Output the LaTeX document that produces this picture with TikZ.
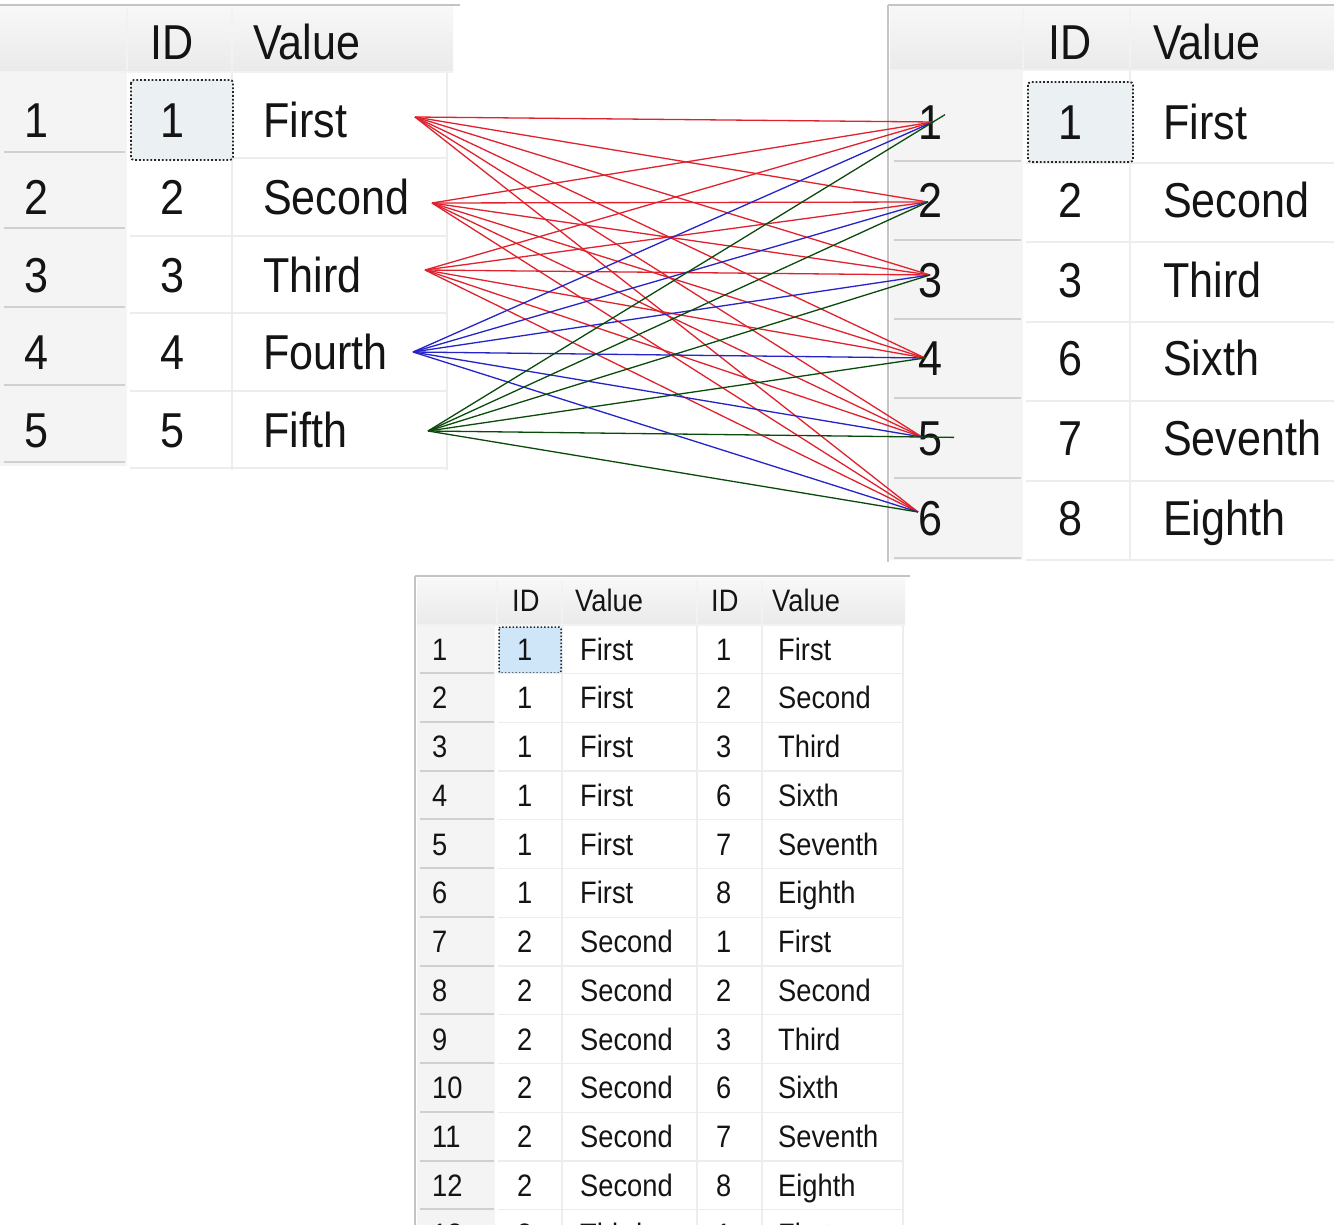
\documentclass[tikz,border=0pt]{standalone}
\usepackage{fontspec}
\setmainfont[FakeStretch=0.88]{Liberation Sans}
\definecolor{txt}{HTML}{141414}
\definecolor{hdrtop}{HTML}{F8F8F8}
\definecolor{hdrbot}{HTML}{EAEAEA}
\definecolor{rh}{HTML}{F4F4F4}
\definecolor{rhline}{HTML}{D0D0D0}
\definecolor{gridc}{HTML}{EDEDED}
\definecolor{bordc}{HTML}{C4C4C4}
\definecolor{lred}{HTML}{E0222E}
\definecolor{lblue}{HTML}{2424C8}
\definecolor{lgreen}{HTML}{0A4A0A}
\definecolor{focusa}{HTML}{EBF0F3}
\definecolor{focusb}{HTML}{CFE5F8}
\tikzset{
  big/.style={font=\fontsize{49}{49}\selectfont, anchor=base west, inner sep=0pt, text=txt},
  small/.style={font=\fontsize{31}{31}\selectfont, anchor=base west, inner sep=0pt, text=txt},
  hdrbg/.style={top color=hdrtop, bottom color=hdrbot, draw=none},
  rhbg/.style={fill=rh, draw=none},
  rhsep/.style={draw=rhline, line width=2pt},
  hsep/.style={draw=gridc!80!black!20!white, line width=1.2pt},
  gridl/.style={draw=gridc, line width=1.2pt},
  outer/.style={draw=bordc, line width=2.5pt},
  focusbox/.style={draw=black!85, dotted, line width=1.8pt, rounded corners=3pt},
  redline/.style={draw=lred, line width=1.3pt},
  blueline/.style={draw=lblue, line width=1.3pt},
  greenline/.style={draw=lgreen, line width=1.3pt}
}
\begin{document}
\begin{tikzpicture}[x=1pt,y=-1pt]
\useasboundingbox (0,0) rectangle (1334,1225);
\fill[white] (0,0) rectangle (1334,1225);

% ---------------- left table ----------------
\fill[hdrbg] (0,5) rectangle (453,72);
\draw[outer] (0,5) -- (460,5);
\draw[hsep] (127,9) -- (127,70);
\draw[hsep] (232,9) -- (232,70);
\draw[hsep] (0,72) -- (453,72);
\fill[rhbg] (0,73) rectangle (127,466);
\foreach \y in {152,228,307,385,462} \draw[rhsep] (4,\y) -- (125,\y);
\foreach \y in {158,236,313,391,468} \draw[gridl] (130,\y) -- (447,\y);
\draw[gridl] (232,73) -- (232,470);
\draw[gridl] (447,73) -- (447,470);
\filldraw[focusbox, fill=focusa] (131,80) rectangle (233,160);
\node[big] (lhid) at (150,59.5) {ID};
\node[big] (lhval) at (253,59.5) {Value};
\foreach \i/\v/\y in {1/First/120,2/Second/197,3/Third/275,4/Fourth/352,5/Fifth/430}{
  \node[big] (lrn\i) at (24,\y+17.5) {\i};
  \node[big] (lid\i) at (160,\y+17.5) {\i};
  \node[big] (lval\i) at (263,\y+17.5) {\v};
}

% ---------------- right table ----------------
\fill[hdrbg] (890,5) rectangle (1334,70);
\draw[outer] (888,5) -- (1334,5);
\draw[outer] (888,5) -- (888,562);
\draw[hsep] (1023,9) -- (1023,68);
\draw[hsep] (1130,9) -- (1130,68);
\draw[hsep] (890,70) -- (1334,70);
\fill[rhbg] (890,71) rectangle (1023,560);
\foreach \y in {161,240,319,398,478,558} \draw[rhsep] (894,\y) -- (1021,\y);
\foreach \y in {163,242,322,401,481,560} \draw[gridl] (1026,\y) -- (1334,\y);
\draw[gridl] (1130,71) -- (1130,560);
\filldraw[focusbox, fill=focusa] (1028,82) rectangle (1133,162);
\node[big] (rhid) at (1048,59.5) {ID};
\node[big] (rhval) at (1153,59.5) {Value};
\foreach \i/\d/\v/\y in {1/1/First/122,2/2/Second/200,3/3/Third/280,4/6/Sixth/358,5/7/Seventh/438,6/8/Eighth/518}{
  \node[big] (rrn\i) at (918,\y+17.5) {\i};
  \node[big] (rid\i) at (1058,\y+17.5) {\d};
  \node[big] (rval\i) at (1163,\y+17.5) {\v};
}

% ---------------- bottom table ----------------
\fill[hdrbg] (417,578) rectangle (905,625);
\draw[outer] (415,576) -- (910,576);
\draw[outer] (415,576) -- (415,1225);
\foreach \x in {497,562,697,762} \draw[hsep] (\x,581) -- (\x,623);
\draw[hsep] (417,625) -- (905,625);
\fill[rhbg] (417,626) rectangle (495,1225);
\foreach \x in {562,697,762,903} \draw[gridl] (\x,626) -- (\x,1225);
\filldraw[focusbox, fill=focusb, line width=1.5pt, rounded corners=2pt] (499,627) rectangle (561,673);
\node[small] (bh1) at (512,611) {ID};
\node[small] (bh2) at (575,611) {Value};
\node[small] (bh3) at (711,611) {ID};
\node[small] (bh4) at (772,611) {Value};
\foreach \i/\a/\b/\c/\d in {1/1/First/1/First,2/1/First/2/Second,3/1/First/3/Third,4/1/First/6/Sixth,5/1/First/7/Seventh,6/1/First/8/Eighth,7/2/Second/1/First,8/2/Second/2/Second,9/2/Second/3/Third,10/2/Second/6/Sixth,11/2/Second/7/Seventh,12/2/Second/8/Eighth,13/3/Third/1/First}{
  \pgfmathsetmacro{\yc}{649+48.75*(\i-1)}
  \draw[rhsep] (420,\yc+24) -- (494,\yc+24);
  \draw[gridl] (498,\yc+24.5) -- (903,\yc+24.5);
  \node[small] (brn\i) at (432,\yc+11) {\i};
  \node[small] (bida\i) at (517,\yc+11) {\a};
  \node[small] (bva\i) at (580,\yc+11) {\b};
  \node[small] (bidb\i) at (716,\yc+11) {\c};
  \node[small] (bvb\i) at (778,\yc+11) {\d};
}

% ---------------- connectors ----------------
\coordinate (L1) at (415,117);
\coordinate (L2) at (432,203);
\coordinate (L3) at (425,270);
\coordinate (L4) at (413,352);
\coordinate (L5) at (428,431);
\coordinate (R1) at (933,122);
\coordinate (R2) at (928,202);
\coordinate (R3) at (930,275);
\coordinate (R4) at (925,358);
\coordinate (R5) at (922,437);
\coordinate (R6) at (918,512);
\foreach \p in {1,2,3}{
  \foreach \q in {1,...,6} \draw[redline] (L\p) -- (R\q);
}
\foreach \q in {1,...,6} \draw[blueline] (L4) -- (R\q);
\foreach \q in {2,3,4,6} \draw[greenline] (L5) -- (R\q);
\draw[greenline, shorten >=-14pt] (L5) -- (R1);
\draw[greenline, shorten >=-32pt] (L5) -- (R5);
\end{tikzpicture}
\end{document}
